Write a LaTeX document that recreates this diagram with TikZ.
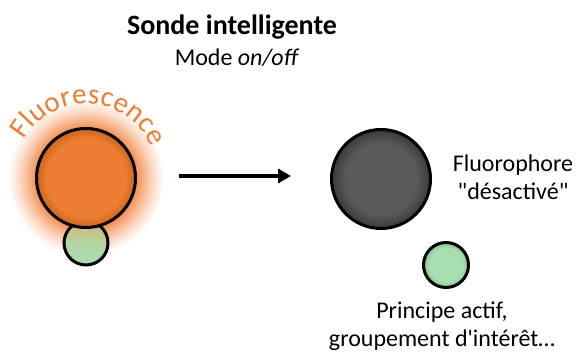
\documentclass[tikz,border=0pt]{standalone}
\usepackage{fontspec}
\setmainfont{Carlito}[Ligatures=TeXOff]
\usetikzlibrary{arrows.meta,decorations.text}
\definecolor{myorange}{HTML}{ED7D31}
\definecolor{myorangedk}{HTML}{C9641F}
\definecolor{glowA}{HTML}{F49660}
\definecolor{glowB}{HTML}{F7B48A}
\definecolor{glowC}{HTML}{FBDCC8}
\definecolor{darkA}{HTML}{5A5A5A}
\definecolor{darkB}{HTML}{3A3A3A}
\definecolor{greenA}{HTML}{A9DEB1}
\definecolor{greenB}{HTML}{86BE90}
\definecolor{greentop}{HTML}{D9B26E}
\pgfdeclareradialshading{orangeball}{\pgfpoint{0bp}{0bp}}{color(0bp)=(myorange); color(20bp)=(myorange); color(25bp)=(myorangedk); color(50bp)=(myorangedk)}
\pgfdeclareradialshading{darkball}{\pgfpoint{0bp}{0bp}}{color(0bp)=(darkA); color(18bp)=(darkA); color(25bp)=(darkB); color(50bp)=(darkB)}
\pgfdeclareradialshading{greenball}{\pgfpoint{0bp}{0bp}}{color(0bp)=(greenA); color(19bp)=(greenA); color(25bp)=(greenB); color(50bp)=(greenB)}
\pgfdeclareradialshading{glow}{\pgfpoint{0bp}{0bp}}{color(0bp)=(glowA); color(16.5bp)=(glowA); color(18.5bp)=(glowB); color(21.5bp)=(glowC); color(25bp)=(white); color(50bp)=(white)}
\tikzset{
  ball/.style={circle, draw=black, line width=3pt, inner sep=0pt},
  bodytext/.style={font=\fontsize{24}{28}\selectfont, align=center, inner sep=0pt},
}
\begin{document}
\begin{tikzpicture}[x=1pt,y=1pt]
\useasboundingbox (0,0) rectangle (576,353);
% glow
\shade[shading=glow] (86,175) circle (78);
% small green (left), under orange ball
\node[ball, minimum size=44pt, top color=greentop, bottom color=greenA, middle color=greenA!80!greentop] (gl) at (86,110) {};
% orange ball
\node[ball, minimum size=99pt, shading=orangeball] (big) at (86,175) {};
% Fluorescence on arc
\coordinate (fc) at (86,177);
\path[decorate, decoration={text along path, text align=fit to path, text color=myorange,
  text={|\fontsize{29}{29}\selectfont|Fluorescence}}]
  (fc) ++(150:72) arc (150:24:72);
% arrow
\coordinate (a1) at (179,177);
\coordinate (a2) at (291,177);
\draw[line width=4pt, -{Triangle[length=13pt,width=14pt]}] (a1) -- (a2);
% dark ball
\node[ball, minimum size=99pt, shading=darkball] (dark) at (381,174) {};
% green right
\node[ball, minimum size=45pt, shading=greenball] (gr) at (446,88) {};
% texts
\node[font=\fontsize{28}{32}\selectfont\bfseries, inner sep=0pt] (title) at (232,326) {Sonde intelligente};
\node[font=\fontsize{24}{28}\selectfont, inner sep=0pt] (mode) at (237,295) {Mode \textit{on/off}};
\node[bodytext] (fluo) at (513,176) {Fluorophore\\"désactivé"};
\node[bodytext] (pa) at (442,27) {Principe actif,\\groupement d'intérêt…};
\end{tikzpicture}
\end{document}
